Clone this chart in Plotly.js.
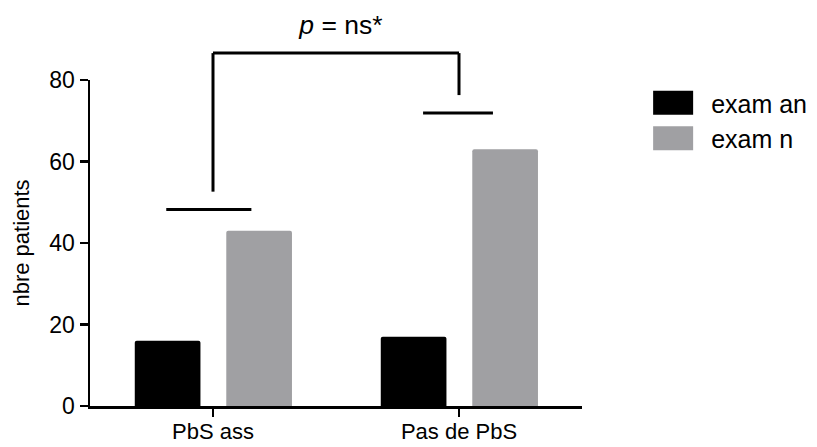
<!DOCTYPE html>
<html>
<head>
<meta charset="utf-8">
<script src="https://cdn.plot.ly/plotly-3.0.1.min.js"></script>
<style>
  html, body { margin: 0; padding: 0; background: #fff; }
  #chart { width: 817px; height: 447px; }
</style>
</head>
<body>
<div id="chart"></div>
<script>
// ---- data ----
const categories = ['PbS ass', 'Pas de PbS'];
const seriesNames = ['exam an', 'exam n'];
const examAn = [16, 17];
const examN = [43, 63];
const yTicks = [0, 20, 40, 60, 80];
const titleText = '<i>p</i> = ns*';
const yTitle = 'nbre patients';
// significance bracket (category index, value)
const bracketX = [0, 1];
const bracketTop = 86.6;
const bracketBottoms = [52.6, 76.3];
// short horizontal lines above each group: [x0, x1, y]
const groupLines = [[-0.19, 0.156, 48.2], [0.854, 1.138, 71.9]];

const yMax = 80;
const FONT = 'Liberation Sans, Arial, Helvetica, sans-serif';
const barW = 0.267;

const traces = [
  {
    type: 'bar', name: seriesNames[0], x: [0, 1], y: examAn,
    width: barW, offset: -0.318,
    marker: { color: '#000000', line: { width: 0 }, cornerradius: 2 }
  },
  {
    type: 'bar', name: seriesNames[1], x: [0, 1], y: examN,
    width: barW, offset: 0.054,
    marker: { color: '#a0a0a3', line: { width: 0 }, cornerradius: 2 }
  }
];

const toPaperY = v => v / yMax;
const lineStyle = { color: '#000', width: 3 };
const shapes = [
  { type: 'line', xref: 'x', yref: 'paper', x0: bracketX[0], x1: bracketX[1], y0: toPaperY(bracketTop), y1: toPaperY(bracketTop), line: lineStyle },
  { type: 'line', xref: 'x', yref: 'paper', x0: bracketX[0], x1: bracketX[0], y0: toPaperY(bracketTop), y1: toPaperY(bracketBottoms[0]), line: lineStyle },
  { type: 'line', xref: 'x', yref: 'paper', x0: bracketX[1], x1: bracketX[1], y0: toPaperY(bracketTop), y1: toPaperY(bracketBottoms[1]), line: lineStyle }
];
groupLines.forEach(g => shapes.push({
  type: 'line', xref: 'x', yref: 'paper', x0: g[0], x1: g[1], y0: toPaperY(g[2]), y1: toPaperY(g[2]), line: lineStyle
}));

const layout = {
  width: 817, height: 447,
  margin: { l: 90, r: 235, t: 80, b: 40.5, pad: 0, autoexpand: false },
  paper_bgcolor: '#fff', plot_bgcolor: '#fff',
  font: { family: FONT, color: '#000' },
  barmode: 'overlay',
  showlegend: true,
  title: {
    text: titleText, font: { size: 26.5, family: FONT, color: '#000' },
    xref: 'paper', x: 0.51, xanchor: 'center',
    yref: 'container', y: 0.945, yanchor: 'middle'
  },
  xaxis: {
    range: [-0.5, 1.5], tickvals: [0, 1], ticktext: categories,
    showline: true, linecolor: '#000', linewidth: 2.5,
    ticks: 'outside', ticklen: 8, tickwidth: 2.5, tickcolor: '#000',
    ticklabelstandoff: -4,
    showgrid: false, zeroline: false,
    tickfont: { size: 22, family: FONT, color: '#000' }
  },
  yaxis: {
    range: [0, yMax], tickvals: yTicks,
    showline: true, linecolor: '#000', linewidth: 2.5,
    ticks: 'outside', ticklen: 8, tickwidth: 2.5, tickcolor: '#000',
    showgrid: false, zeroline: false,
    tickfont: { size: 23, family: FONT, color: '#000' },
    title: { text: yTitle, font: { size: 22, family: FONT, color: '#000' }, standoff: 14 }
  },
  legend: {
    x: 1.108, xanchor: 'left', y: 1.0, yanchor: 'top',
    font: { size: 25, family: FONT, color: '#000' },
    itemwidth: 66, bgcolor: 'rgba(0,0,0,0)', traceorder: 'normal'
  },
  shapes: shapes
};

Plotly.newPlot('chart', traces, layout, { displayModeBar: false, staticPlot: true }).then(gd => {
  // enlarge legend swatches to match the reference's wide rectangles
  gd.querySelectorAll('.legend .legendpoints path').forEach(p => {
    p.setAttribute('d', 'M20,12H-20V-12H20Z');
  });
});
</script>
</body>
</html>
